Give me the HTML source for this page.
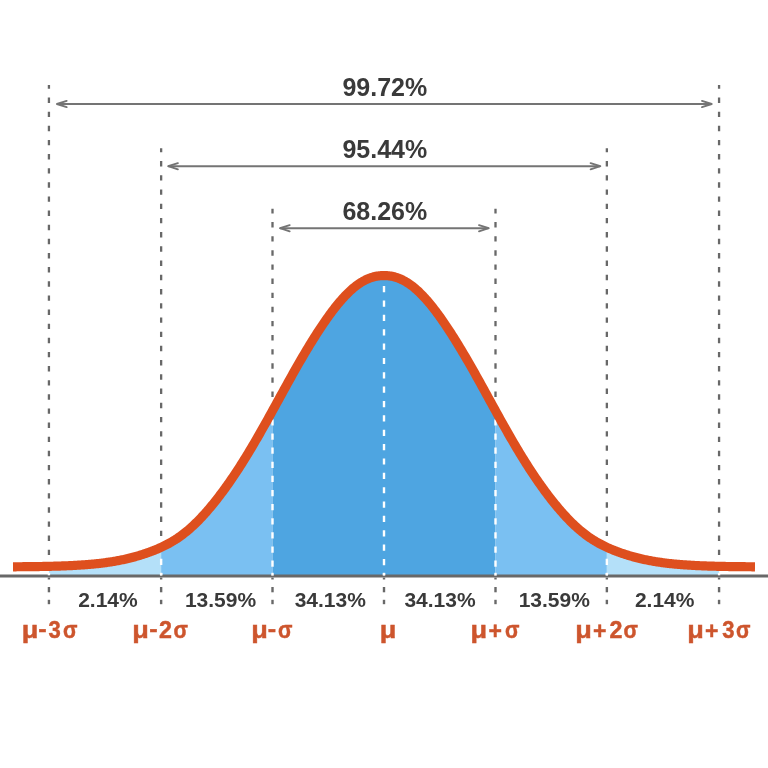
<!DOCTYPE html>
<html><head><meta charset="utf-8"><style>
html,body{margin:0;padding:0;background:#fff;width:768px;height:768px;overflow:hidden}
svg{display:block}
text{font-family:"Liberation Sans",sans-serif;font-weight:bold}
text{filter:opacity(1)}
</style></head><body>
<svg width="768" height="768" viewBox="0 0 768 768">
<rect width="768" height="768" fill="#fff"/>
<line x1="48.93" y1="85.00" x2="48.93" y2="576.00" stroke="#686868" stroke-width="2.30" stroke-dasharray="5.40 8.73" stroke-dashoffset="1.570"/>
<line x1="161.14" y1="148.20" x2="161.14" y2="576.00" stroke="#686868" stroke-width="2.30" stroke-dasharray="5.40 8.82" stroke-dashoffset="1.420"/>
<line x1="272.50" y1="208.70" x2="272.50" y2="576.00" stroke="#686868" stroke-width="2.30" stroke-dasharray="5.40 8.72" stroke-dashoffset="0.720"/>
<line x1="495.50" y1="208.70" x2="495.50" y2="576.00" stroke="#686868" stroke-width="2.30" stroke-dasharray="5.40 8.72" stroke-dashoffset="0.720"/>
<line x1="606.86" y1="148.20" x2="606.86" y2="576.00" stroke="#686868" stroke-width="2.30" stroke-dasharray="5.40 8.82" stroke-dashoffset="1.420"/>
<line x1="719.07" y1="85.00" x2="719.07" y2="576.00" stroke="#686868" stroke-width="2.30" stroke-dasharray="5.40 8.73" stroke-dashoffset="1.570"/>
<path d="M48.93,566.34 L49.93,566.32 L50.93,566.30 L51.93,566.27 L52.93,566.25 L53.93,566.22 L54.93,566.19 L55.93,566.16 L56.93,566.13 L57.93,566.10 L58.93,566.07 L59.93,566.04 L60.93,566.00 L61.93,565.97 L62.93,565.93 L63.93,565.90 L64.93,565.86 L65.93,565.82 L66.93,565.78 L67.93,565.73 L68.93,565.69 L69.93,565.64 L70.93,565.60 L71.93,565.55 L72.93,565.50 L73.93,565.44 L74.93,565.39 L75.93,565.34 L76.93,565.28 L77.93,565.22 L78.93,565.16 L79.93,565.10 L80.93,565.03 L81.93,564.96 L82.93,564.89 L83.93,564.82 L84.93,564.75 L85.93,564.67 L86.93,564.60 L87.93,564.52 L88.93,564.43 L89.93,564.35 L90.93,564.26 L91.93,564.17 L92.93,564.08 L93.93,563.98 L94.93,563.88 L95.93,563.78 L96.93,563.67 L97.93,563.57 L98.93,563.45 L99.93,563.34 L100.93,563.22 L101.93,563.10 L102.93,562.98 L103.93,562.85 L104.93,562.72 L105.93,562.58 L106.93,562.44 L107.93,562.30 L108.93,562.15 L109.93,562.00 L110.93,561.85 L111.93,561.69 L112.93,561.53 L113.93,561.36 L114.93,561.19 L115.93,561.01 L116.93,560.83 L117.93,560.65 L118.93,560.46 L119.93,560.26 L120.93,560.06 L121.93,559.86 L122.93,559.65 L123.93,559.43 L124.93,559.21 L125.93,558.99 L126.93,558.76 L127.93,558.53 L128.93,558.29 L129.93,558.04 L130.93,557.79 L131.93,557.53 L132.93,557.27 L133.93,557.00 L134.93,556.73 L135.93,556.45 L136.93,556.17 L137.93,555.88 L138.93,555.58 L139.93,555.28 L140.93,554.97 L141.93,554.66 L142.93,554.34 L143.93,554.02 L144.93,553.68 L145.93,553.35 L146.93,553.00 L147.93,552.65 L148.93,552.29 L149.93,551.93 L150.93,551.55 L151.93,551.18 L152.93,550.79 L153.93,550.39 L154.93,549.99 L155.93,549.58 L156.93,549.17 L157.93,548.74 L158.93,548.30 L159.93,547.86 L160.93,547.40 L161.14,547.31 L161.14,576.00 L48.93,576.00 Z" fill="#b4e0f9"/>
<path d="M161.14,547.31 L162.14,546.84 L163.14,546.37 L164.14,545.88 L165.14,545.38 L166.14,544.87 L167.14,544.35 L168.14,543.82 L169.14,543.28 L170.14,542.72 L171.14,542.15 L172.14,541.56 L173.14,540.96 L174.14,540.35 L175.14,539.72 L176.14,539.08 L177.14,538.42 L178.14,537.75 L179.14,537.06 L180.14,536.35 L181.14,535.63 L182.14,534.90 L183.14,534.14 L184.14,533.37 L185.14,532.58 L186.14,531.77 L187.14,530.95 L188.14,530.11 L189.14,529.26 L190.14,528.38 L191.14,527.49 L192.14,526.58 L193.14,525.66 L194.14,524.72 L195.14,523.76 L196.14,522.78 L197.14,521.79 L198.14,520.79 L199.14,519.76 L200.14,518.73 L201.14,517.67 L202.14,516.60 L203.14,515.52 L204.14,514.42 L205.14,513.31 L206.14,512.18 L207.14,511.04 L208.14,509.88 L209.14,508.71 L210.14,507.53 L211.14,506.33 L212.14,505.12 L213.14,503.90 L214.14,502.66 L215.14,501.42 L216.14,500.15 L217.14,498.88 L218.14,497.59 L219.14,496.29 L220.14,494.98 L221.14,493.65 L222.14,492.31 L223.14,490.96 L224.14,489.60 L225.14,488.23 L226.14,486.84 L227.14,485.44 L228.14,484.03 L229.14,482.60 L230.14,481.17 L231.14,479.72 L232.14,478.26 L233.14,476.79 L234.14,475.30 L235.14,473.81 L236.14,472.30 L237.14,470.78 L238.14,469.25 L239.14,467.70 L240.14,466.15 L241.14,464.58 L242.14,463.01 L243.14,461.42 L244.14,459.82 L245.14,458.21 L246.14,456.58 L247.14,454.95 L248.14,453.31 L249.14,451.66 L250.14,449.99 L251.14,448.32 L252.14,446.64 L253.14,444.95 L254.14,443.25 L255.14,441.54 L256.14,439.82 L257.14,438.09 L258.14,436.36 L259.14,434.61 L260.14,432.86 L261.14,431.11 L262.14,429.34 L263.14,427.57 L264.14,425.79 L265.14,424.01 L266.14,422.22 L267.14,420.43 L268.14,418.63 L269.14,416.83 L270.14,415.02 L271.14,413.21 L272.14,411.40 L272.50,410.75 L272.50,576.00 L161.14,576.00 Z" fill="#7ac0f2"/>
<path d="M272.50,410.75 L273.50,408.93 L274.50,407.11 L275.50,405.29 L276.50,403.47 L277.50,401.64 L278.50,399.82 L279.50,398.00 L280.50,396.17 L281.50,394.35 L282.50,392.53 L283.50,390.71 L284.50,388.89 L285.50,387.08 L286.50,385.27 L287.50,383.46 L288.50,381.66 L289.50,379.86 L290.50,378.06 L291.50,376.27 L292.50,374.49 L293.50,372.71 L294.50,370.94 L295.50,369.17 L296.50,367.41 L297.50,365.66 L298.50,363.92 L299.50,362.18 L300.50,360.45 L301.50,358.73 L302.50,357.02 L303.50,355.32 L304.50,353.62 L305.50,351.94 L306.50,350.27 L307.50,348.60 L308.50,346.95 L309.50,345.30 L310.50,343.67 L311.50,342.05 L312.50,340.43 L313.50,338.83 L314.50,337.24 L315.50,335.67 L316.50,334.10 L317.50,332.55 L318.50,331.01 L319.50,329.48 L320.50,327.96 L321.50,326.46 L322.50,324.97 L323.50,323.49 L324.50,322.03 L325.50,320.59 L326.50,319.16 L327.50,317.74 L328.50,316.34 L329.50,314.96 L330.50,313.59 L331.50,312.24 L332.50,310.91 L333.50,309.60 L334.50,308.30 L335.50,307.03 L336.50,305.77 L337.50,304.54 L338.50,303.33 L339.50,302.13 L340.50,300.96 L341.50,299.82 L342.50,298.69 L343.50,297.59 L344.50,296.51 L345.50,295.46 L346.50,294.43 L347.50,293.42 L348.50,292.44 L349.50,291.49 L350.50,290.56 L351.50,289.66 L352.50,288.79 L353.50,287.94 L354.50,287.12 L355.50,286.33 L356.50,285.57 L357.50,284.83 L358.50,284.12 L359.50,283.44 L360.50,282.79 L361.50,282.17 L362.50,281.57 L363.50,281.01 L364.50,280.47 L365.50,279.96 L366.50,279.48 L367.50,279.03 L368.50,278.61 L369.50,278.21 L370.50,277.84 L371.50,277.50 L372.50,277.19 L373.50,276.91 L374.50,276.66 L375.50,276.43 L376.50,276.23 L377.50,276.05 L378.50,275.90 L379.50,275.78 L380.50,275.68 L381.50,275.61 L382.50,275.57 L383.50,275.54 L384.00,275.54 L384.00,576.00 L272.50,576.00 Z" fill="#4ea5e1"/>
<path d="M384.00,275.54 L385.00,275.55 L386.00,275.59 L387.00,275.65 L388.00,275.73 L389.00,275.84 L390.00,275.97 L391.00,276.14 L392.00,276.32 L393.00,276.54 L394.00,276.78 L395.00,277.05 L396.00,277.35 L397.00,277.67 L398.00,278.02 L399.00,278.40 L400.00,278.81 L401.00,279.25 L402.00,279.72 L403.00,280.21 L404.00,280.74 L405.00,281.29 L406.00,281.87 L407.00,282.48 L408.00,283.11 L409.00,283.78 L410.00,284.47 L411.00,285.19 L412.00,285.94 L413.00,286.72 L414.00,287.53 L415.00,288.36 L416.00,289.22 L417.00,290.11 L418.00,291.02 L419.00,291.96 L420.00,292.93 L421.00,293.92 L422.00,294.94 L423.00,295.98 L424.00,297.05 L425.00,298.14 L426.00,299.25 L427.00,300.39 L428.00,301.55 L429.00,302.73 L430.00,303.93 L431.00,305.15 L432.00,306.40 L433.00,307.66 L434.00,308.95 L435.00,310.25 L436.00,311.58 L437.00,312.92 L438.00,314.27 L439.00,315.65 L440.00,317.04 L441.00,318.45 L442.00,319.87 L443.00,321.31 L444.00,322.76 L445.00,324.23 L446.00,325.71 L447.00,327.21 L448.00,328.72 L449.00,330.24 L450.00,331.77 L451.00,333.32 L452.00,334.88 L453.00,336.45 L454.00,338.04 L455.00,339.63 L456.00,341.24 L457.00,342.86 L458.00,344.48 L459.00,346.12 L460.00,347.77 L461.00,349.43 L462.00,351.10 L463.00,352.78 L464.00,354.47 L465.00,356.17 L466.00,357.87 L467.00,359.59 L468.00,361.31 L469.00,363.05 L470.00,364.79 L471.00,366.53 L472.00,368.29 L473.00,370.05 L474.00,371.82 L475.00,373.60 L476.00,375.38 L477.00,377.17 L478.00,378.96 L479.00,380.76 L480.00,382.56 L481.00,384.36 L482.00,386.17 L483.00,387.99 L484.00,389.80 L485.00,391.62 L486.00,393.44 L487.00,395.26 L488.00,397.09 L489.00,398.91 L490.00,400.73 L491.00,402.56 L492.00,404.38 L493.00,406.20 L494.00,408.02 L495.00,409.84 L495.50,410.75 L495.50,576.00 L384.00,576.00 Z" fill="#4ea5e1"/>
<path d="M495.50,410.75 L496.50,412.56 L497.50,414.37 L498.50,416.18 L499.50,417.98 L500.50,419.78 L501.50,421.58 L502.50,423.37 L503.50,425.15 L504.50,426.93 L505.50,428.71 L506.50,430.47 L507.50,432.23 L508.50,433.98 L509.50,435.73 L510.50,437.47 L511.50,439.20 L512.50,440.92 L513.50,442.63 L514.50,444.34 L515.50,446.03 L516.50,447.72 L517.50,449.39 L518.50,451.06 L519.50,452.72 L520.50,454.36 L521.50,456.00 L522.50,457.62 L523.50,459.24 L524.50,460.84 L525.50,462.43 L526.50,464.02 L527.50,465.59 L528.50,467.15 L529.50,468.69 L530.50,470.23 L531.50,471.75 L532.50,473.27 L533.50,474.77 L534.50,476.25 L535.50,477.73 L536.50,479.20 L537.50,480.65 L538.50,482.09 L539.50,483.52 L540.50,484.93 L541.50,486.34 L542.50,487.73 L543.50,489.11 L544.50,490.48 L545.50,491.83 L546.50,493.17 L547.50,494.50 L548.50,495.82 L549.50,497.12 L550.50,498.42 L551.50,499.70 L552.50,500.96 L553.50,502.22 L554.50,503.46 L555.50,504.69 L556.50,505.90 L557.50,507.10 L558.50,508.29 L559.50,509.46 L560.50,510.63 L561.50,511.77 L562.50,512.90 L563.50,514.02 L564.50,515.13 L565.50,516.22 L566.50,517.29 L567.50,518.35 L568.50,519.39 L569.50,520.42 L570.50,521.43 L571.50,522.43 L572.50,523.41 L573.50,524.37 L574.50,525.32 L575.50,526.25 L576.50,527.17 L577.50,528.06 L578.50,528.94 L579.50,529.81 L580.50,530.65 L581.50,531.48 L582.50,532.29 L583.50,533.09 L584.50,533.86 L585.50,534.63 L586.50,535.37 L587.50,536.10 L588.50,536.81 L589.50,537.50 L590.50,538.18 L591.50,538.85 L592.50,539.49 L593.50,540.13 L594.50,540.74 L595.50,541.35 L596.50,541.94 L597.50,542.51 L598.50,543.08 L599.50,543.63 L600.50,544.16 L601.50,544.69 L602.50,545.20 L603.50,545.70 L604.50,546.19 L605.50,546.67 L606.50,547.14 L606.86,547.31 L606.86,576.00 L495.50,576.00 Z" fill="#7ac0f2"/>
<path d="M606.86,547.31 L607.86,547.76 L608.86,548.21 L609.86,548.65 L610.86,549.08 L611.86,549.50 L612.86,549.91 L613.86,550.31 L614.86,550.71 L615.86,551.09 L616.86,551.48 L617.86,551.85 L618.86,552.21 L619.86,552.57 L620.86,552.93 L621.86,553.27 L622.86,553.61 L623.86,553.95 L624.86,554.27 L625.86,554.59 L626.86,554.91 L627.86,555.22 L628.86,555.52 L629.86,555.82 L630.86,556.11 L631.86,556.39 L632.86,556.67 L633.86,556.95 L634.86,557.22 L635.86,557.48 L636.86,557.74 L637.86,557.99 L638.86,558.23 L639.86,558.48 L640.86,558.71 L641.86,558.94 L642.86,559.17 L643.86,559.39 L644.86,559.60 L645.86,559.81 L646.86,560.02 L647.86,560.22 L648.86,560.42 L649.86,560.61 L650.86,560.79 L651.86,560.97 L652.86,561.15 L653.86,561.32 L654.86,561.49 L655.86,561.66 L656.86,561.82 L657.86,561.97 L658.86,562.12 L659.86,562.27 L660.86,562.41 L661.86,562.55 L662.86,562.69 L663.86,562.82 L664.86,562.95 L665.86,563.08 L666.86,563.20 L667.86,563.32 L668.86,563.43 L669.86,563.54 L670.86,563.65 L671.86,563.76 L672.86,563.86 L673.86,563.96 L674.86,564.06 L675.86,564.15 L676.86,564.24 L677.86,564.33 L678.86,564.41 L679.86,564.50 L680.86,564.58 L681.86,564.66 L682.86,564.73 L683.86,564.81 L684.86,564.88 L685.86,564.95 L686.86,565.02 L687.86,565.08 L688.86,565.15 L689.86,565.21 L690.86,565.27 L691.86,565.32 L692.86,565.38 L693.86,565.43 L694.86,565.49 L695.86,565.54 L696.86,565.59 L697.86,565.63 L698.86,565.68 L699.86,565.72 L700.86,565.77 L701.86,565.81 L702.86,565.85 L703.86,565.89 L704.86,565.93 L705.86,565.96 L706.86,566.00 L707.86,566.03 L708.86,566.06 L709.86,566.10 L710.86,566.13 L711.86,566.16 L712.86,566.19 L713.86,566.21 L714.86,566.24 L715.86,566.27 L716.86,566.29 L717.86,566.31 L718.86,566.34 L719.07,566.34 L719.07,576.00 L606.86,576.00 Z" fill="#b4e0f9"/>
<clipPath id="fc"><path d="M46.93,566.39 L47.93,566.37 L48.93,566.34 L49.93,566.32 L50.93,566.30 L51.93,566.27 L52.93,566.25 L53.93,566.22 L54.93,566.19 L55.93,566.16 L56.93,566.13 L57.93,566.10 L58.93,566.07 L59.93,566.04 L60.93,566.00 L61.93,565.97 L62.93,565.93 L63.93,565.90 L64.93,565.86 L65.93,565.82 L66.93,565.78 L67.93,565.73 L68.93,565.69 L69.93,565.64 L70.93,565.60 L71.93,565.55 L72.93,565.50 L73.93,565.44 L74.93,565.39 L75.93,565.34 L76.93,565.28 L77.93,565.22 L78.93,565.16 L79.93,565.10 L80.93,565.03 L81.93,564.96 L82.93,564.89 L83.93,564.82 L84.93,564.75 L85.93,564.67 L86.93,564.60 L87.93,564.52 L88.93,564.43 L89.93,564.35 L90.93,564.26 L91.93,564.17 L92.93,564.08 L93.93,563.98 L94.93,563.88 L95.93,563.78 L96.93,563.67 L97.93,563.57 L98.93,563.45 L99.93,563.34 L100.93,563.22 L101.93,563.10 L102.93,562.98 L103.93,562.85 L104.93,562.72 L105.93,562.58 L106.93,562.44 L107.93,562.30 L108.93,562.15 L109.93,562.00 L110.93,561.85 L111.93,561.69 L112.93,561.53 L113.93,561.36 L114.93,561.19 L115.93,561.01 L116.93,560.83 L117.93,560.65 L118.93,560.46 L119.93,560.26 L120.93,560.06 L121.93,559.86 L122.93,559.65 L123.93,559.43 L124.93,559.21 L125.93,558.99 L126.93,558.76 L127.93,558.53 L128.93,558.29 L129.93,558.04 L130.93,557.79 L131.93,557.53 L132.93,557.27 L133.93,557.00 L134.93,556.73 L135.93,556.45 L136.93,556.17 L137.93,555.88 L138.93,555.58 L139.93,555.28 L140.93,554.97 L141.93,554.66 L142.93,554.34 L143.93,554.02 L144.93,553.68 L145.93,553.35 L146.93,553.00 L147.93,552.65 L148.93,552.29 L149.93,551.93 L150.93,551.55 L151.93,551.18 L152.93,550.79 L153.93,550.39 L154.93,549.99 L155.93,549.58 L156.93,549.17 L157.93,548.74 L158.93,548.30 L159.93,547.86 L160.93,547.40 L161.93,546.94 L162.93,546.47 L163.93,545.98 L164.93,545.49 L165.93,544.98 L166.93,544.46 L167.93,543.93 L168.93,543.39 L169.93,542.84 L170.93,542.27 L171.93,541.69 L172.93,541.09 L173.93,540.48 L174.93,539.86 L175.93,539.22 L176.93,538.56 L177.93,537.89 L178.93,537.21 L179.93,536.50 L180.93,535.79 L181.93,535.05 L182.93,534.30 L183.93,533.53 L184.93,532.75 L185.93,531.95 L186.93,531.13 L187.93,530.29 L188.93,529.44 L189.93,528.57 L190.93,527.68 L191.93,526.77 L192.93,525.85 L193.93,524.92 L194.93,523.96 L195.93,522.99 L196.93,522.00 L197.93,521.00 L198.93,519.98 L199.93,518.95 L200.93,517.90 L201.93,516.83 L202.93,515.75 L203.93,514.65 L204.93,513.54 L205.93,512.42 L206.93,511.28 L207.93,510.13 L208.93,508.96 L209.93,507.78 L210.93,506.59 L211.93,505.38 L212.93,504.16 L213.93,502.93 L214.93,501.68 L215.93,500.42 L216.93,499.15 L217.93,497.86 L218.93,496.56 L219.93,495.25 L220.93,493.93 L221.93,492.60 L222.93,491.25 L223.93,489.89 L224.93,488.52 L225.93,487.13 L226.93,485.74 L227.93,484.33 L228.93,482.90 L229.93,481.47 L230.93,480.03 L231.93,478.57 L232.93,477.10 L233.93,475.62 L234.93,474.12 L235.93,472.62 L236.93,471.10 L237.93,469.57 L238.93,468.03 L239.93,466.48 L240.93,464.91 L241.93,463.34 L242.93,461.75 L243.93,460.15 L244.93,458.54 L245.93,456.93 L246.93,455.30 L247.93,453.66 L248.93,452.00 L249.93,450.34 L250.93,448.67 L251.93,446.99 L252.93,445.30 L253.93,443.60 L254.93,441.90 L255.93,440.18 L256.93,438.45 L257.93,436.72 L258.93,434.98 L259.93,433.23 L260.93,431.48 L261.93,429.71 L262.93,427.94 L263.93,426.17 L264.93,424.39 L265.93,422.60 L266.93,420.81 L267.93,419.01 L268.93,417.21 L269.93,415.40 L270.93,413.59 L271.93,411.78 L272.93,409.97 L273.93,408.15 L274.93,406.33 L275.93,404.51 L276.93,402.68 L277.93,400.86 L278.93,399.04 L279.93,397.21 L280.93,395.39 L281.93,393.57 L282.93,391.75 L283.93,389.93 L284.93,388.11 L285.93,386.30 L286.93,384.49 L287.93,382.68 L288.93,380.88 L289.93,379.08 L290.93,377.29 L291.93,375.50 L292.93,373.72 L293.93,371.95 L294.93,370.18 L295.93,368.41 L296.93,366.66 L297.93,364.91 L298.93,363.17 L299.93,361.43 L300.93,359.71 L301.93,357.99 L302.93,356.29 L303.93,354.59 L304.93,352.90 L305.93,351.22 L306.93,349.55 L307.93,347.89 L308.93,346.24 L309.93,344.60 L310.93,342.97 L311.93,341.35 L312.93,339.75 L313.93,338.15 L314.93,336.56 L315.93,334.99 L316.93,333.43 L317.93,331.88 L318.93,330.35 L319.93,328.82 L320.93,327.31 L321.93,325.82 L322.93,324.33 L323.93,322.86 L324.93,321.41 L325.93,319.97 L326.93,318.55 L327.93,317.14 L328.93,315.74 L329.93,314.37 L330.93,313.01 L331.93,311.67 L332.93,310.34 L333.93,309.04 L334.93,307.75 L335.93,306.49 L336.93,305.24 L337.93,304.02 L338.93,302.81 L339.93,301.63 L340.93,300.47 L341.93,299.33 L342.93,298.21 L343.93,297.12 L344.93,296.05 L345.93,295.01 L346.93,293.99 L347.93,293.00 L348.93,292.03 L349.93,291.09 L350.93,290.17 L351.93,289.28 L352.93,288.42 L353.93,287.59 L354.93,286.78 L355.93,286.00 L356.93,285.25 L357.93,284.52 L358.93,283.83 L359.93,283.16 L360.93,282.52 L361.93,281.91 L362.93,281.33 L363.93,280.77 L364.93,280.25 L365.93,279.75 L366.93,279.28 L367.93,278.84 L368.93,278.43 L369.93,278.05 L370.93,277.69 L371.93,277.37 L372.93,277.07 L373.93,276.80 L374.93,276.55 L375.93,276.34 L376.93,276.15 L377.93,275.98 L378.93,275.85 L379.93,275.74 L380.93,275.65 L381.93,275.59 L382.93,275.55 L383.93,275.54 L384.93,275.55 L385.93,275.58 L386.93,275.64 L387.93,275.72 L388.93,275.83 L389.93,275.96 L390.93,276.12 L391.93,276.31 L392.93,276.52 L393.93,276.76 L394.93,277.03 L395.93,277.32 L396.93,277.65 L397.93,278.00 L398.93,278.38 L399.93,278.78 L400.93,279.22 L401.93,279.68 L402.93,280.18 L403.93,280.70 L404.93,281.25 L405.93,281.83 L406.93,282.43 L407.93,283.07 L408.93,283.73 L409.93,284.42 L410.93,285.14 L411.93,285.89 L412.93,286.67 L413.93,287.47 L414.93,288.30 L415.93,289.16 L416.93,290.05 L417.93,290.96 L418.93,291.90 L419.93,292.86 L420.93,293.85 L421.93,294.87 L422.93,295.91 L423.93,296.97 L424.93,298.06 L425.93,299.17 L426.93,300.31 L427.93,301.46 L428.93,302.64 L429.93,303.85 L430.93,305.07 L431.93,306.31 L432.93,307.58 L433.93,308.86 L434.93,310.16 L435.93,311.48 L436.93,312.82 L437.93,314.18 L438.93,315.55 L439.93,316.94 L440.93,318.35 L441.93,319.77 L442.93,321.21 L443.93,322.66 L444.93,324.13 L445.93,325.61 L446.93,327.10 L447.93,328.61 L448.93,330.13 L449.93,331.67 L450.93,333.21 L451.93,334.77 L452.93,336.34 L453.93,337.93 L454.93,339.52 L455.93,341.13 L456.93,342.74 L457.93,344.37 L458.93,346.01 L459.93,347.66 L460.93,349.32 L461.93,350.98 L462.93,352.66 L463.93,354.35 L464.93,356.05 L465.93,357.75 L466.93,359.47 L467.93,361.19 L468.93,362.92 L469.93,364.66 L470.93,366.41 L471.93,368.17 L472.93,369.93 L473.93,371.70 L474.93,373.47 L475.93,375.25 L476.93,377.04 L477.93,378.83 L478.93,380.63 L479.93,382.43 L480.93,384.24 L481.93,386.05 L482.93,387.86 L483.93,389.68 L484.93,391.49 L485.93,393.31 L486.93,395.14 L487.93,396.96 L488.93,398.78 L489.93,400.61 L490.93,402.43 L491.93,404.25 L492.93,406.07 L493.93,407.89 L494.93,409.71 L495.93,411.53 L496.93,413.34 L497.93,415.15 L498.93,416.96 L499.93,418.76 L500.93,420.56 L501.93,422.35 L502.93,424.14 L503.93,425.92 L504.93,427.70 L505.93,429.47 L506.93,431.23 L507.93,432.99 L508.93,434.74 L509.93,436.48 L510.93,438.21 L511.93,439.94 L512.93,441.66 L513.93,443.37 L514.93,445.07 L515.93,446.76 L516.93,448.44 L517.93,450.11 L518.93,451.77 L519.93,453.42 L520.93,455.07 L521.93,456.70 L522.93,458.32 L523.93,459.93 L524.93,461.53 L525.93,463.12 L526.93,464.69 L527.93,466.26 L528.93,467.81 L529.93,469.36 L530.93,470.89 L531.93,472.41 L532.93,473.91 L533.93,475.41 L534.93,476.89 L535.93,478.36 L536.93,479.82 L537.93,481.27 L538.93,482.70 L539.93,484.13 L540.93,485.54 L541.93,486.94 L542.93,488.32 L543.93,489.70 L544.93,491.06 L545.93,492.41 L546.93,493.75 L547.93,495.07 L548.93,496.38 L549.93,497.68 L550.93,498.97 L551.93,500.24 L552.93,501.50 L553.93,502.75 L554.93,503.99 L555.93,505.21 L556.93,506.42 L557.93,507.61 L558.93,508.80 L559.93,509.97 L560.93,511.12 L561.93,512.26 L562.93,513.39 L563.93,514.50 L564.93,515.60 L565.93,516.68 L566.93,517.75 L567.93,518.80 L568.93,519.84 L569.93,520.86 L570.93,521.86 L571.93,522.85 L572.93,523.83 L573.93,524.78 L574.93,525.72 L575.93,526.65 L576.93,527.55 L577.93,528.44 L578.93,529.32 L579.93,530.17 L580.93,531.01 L581.93,531.83 L582.93,532.64 L583.93,533.42 L584.93,534.19 L585.93,534.95 L586.93,535.68 L587.93,536.40 L588.93,537.11 L589.93,537.80 L590.93,538.47 L591.93,539.13 L592.93,539.77 L593.93,540.39 L594.93,541.01 L595.93,541.60 L596.93,542.19 L597.93,542.76 L598.93,543.31 L599.93,543.86 L600.93,544.39 L601.93,544.91 L602.93,545.42 L603.93,545.91 L604.93,546.40 L605.93,546.88 L606.93,547.34 L607.93,547.80 L608.93,548.24 L609.93,548.68 L610.93,549.11 L611.93,549.53 L612.93,549.94 L613.93,550.34 L614.93,550.73 L615.93,551.12 L616.93,551.50 L617.93,551.87 L618.93,552.24 L619.93,552.60 L620.93,552.95 L621.93,553.30 L622.93,553.64 L623.93,553.97 L624.93,554.30 L625.93,554.62 L626.93,554.93 L627.93,555.24 L628.93,555.54 L629.93,555.84 L630.93,556.13 L631.93,556.41 L632.93,556.69 L633.93,556.97 L634.93,557.23 L635.93,557.50 L636.93,557.75 L637.93,558.01 L638.93,558.25 L639.93,558.49 L640.93,558.73 L641.93,558.96 L642.93,559.18 L643.93,559.40 L644.93,559.62 L645.93,559.83 L646.93,560.03 L647.93,560.23 L648.93,560.43 L649.93,560.62 L650.93,560.81 L651.93,560.99 L652.93,561.16 L653.93,561.34 L654.93,561.50 L655.93,561.67 L656.93,561.83 L657.93,561.98 L658.93,562.13 L659.93,562.28 L660.93,562.42 L661.93,562.56 L662.93,562.70 L663.93,562.83 L664.93,562.96 L665.93,563.08 L666.93,563.21 L667.93,563.32 L668.93,563.44 L669.93,563.55 L670.93,563.66 L671.93,563.76 L672.93,563.87 L673.93,563.97 L674.93,564.06 L675.93,564.16 L676.93,564.25 L677.93,564.34 L678.93,564.42 L679.93,564.50 L680.93,564.58 L681.93,564.66 L682.93,564.74 L683.93,564.81 L684.93,564.88 L685.93,564.95 L686.93,565.02 L687.93,565.09 L688.93,565.15 L689.93,565.21 L690.93,565.27 L691.93,565.33 L692.93,565.38 L693.93,565.44 L694.93,565.49 L695.93,565.54 L696.93,565.59 L697.93,565.64 L698.93,565.68 L699.93,565.73 L700.93,565.77 L701.93,565.81 L702.93,565.85 L703.93,565.89 L704.93,565.93 L705.93,565.96 L706.93,566.00 L707.93,566.03 L708.93,566.07 L709.93,566.10 L710.93,566.13 L711.93,566.16 L712.93,566.19 L713.93,566.21 L714.93,566.24 L715.93,566.27 L716.93,566.29 L717.93,566.32 L718.93,566.34 L719.93,566.36 L720.93,566.38 L721.07,566.39 L721.07,576.00 L46.93,576.00 Z"/></clipPath>
<line x1="0" y1="576.0" x2="768" y2="576.0" stroke="#686868" stroke-width="3"/>
<g clip-path="url(#fc)">
<line x1="48.93" y1="85.00" x2="48.93" y2="575.40" stroke="#fff" stroke-width="2.40" stroke-dasharray="6.20 7.93" stroke-dashoffset="1.970"/>
<line x1="161.14" y1="148.20" x2="161.14" y2="575.40" stroke="#fff" stroke-width="2.40" stroke-dasharray="6.20 8.02" stroke-dashoffset="1.820"/>
<line x1="272.50" y1="208.70" x2="272.50" y2="575.40" stroke="#fff" stroke-width="2.40" stroke-dasharray="6.20 7.92" stroke-dashoffset="1.120"/>
<line x1="384.00" y1="280.00" x2="384.00" y2="575.40" stroke="#fff" stroke-width="2.40" stroke-dasharray="6.20 8.16" stroke-dashoffset="8.260"/>
<line x1="495.50" y1="208.70" x2="495.50" y2="575.40" stroke="#fff" stroke-width="2.40" stroke-dasharray="6.20 7.92" stroke-dashoffset="1.120"/>
<line x1="606.86" y1="148.20" x2="606.86" y2="575.40" stroke="#fff" stroke-width="2.40" stroke-dasharray="6.20 8.02" stroke-dashoffset="1.820"/>
<line x1="719.07" y1="85.00" x2="719.07" y2="575.40" stroke="#fff" stroke-width="2.40" stroke-dasharray="6.20 7.93" stroke-dashoffset="1.970"/>
</g>
<line x1="48.93" y1="572.8" x2="48.93" y2="575.3" stroke="#fff" stroke-width="2.4"/>
<line x1="161.14" y1="572.8" x2="161.14" y2="575.3" stroke="#fff" stroke-width="2.4"/>
<line x1="272.50" y1="572.8" x2="272.50" y2="575.3" stroke="#fff" stroke-width="2.4"/>
<line x1="384.00" y1="572.8" x2="384.00" y2="575.3" stroke="#fff" stroke-width="2.4"/>
<line x1="495.50" y1="572.8" x2="495.50" y2="575.3" stroke="#fff" stroke-width="2.4"/>
<line x1="606.86" y1="572.8" x2="606.86" y2="575.3" stroke="#fff" stroke-width="2.4"/>
<line x1="719.07" y1="572.8" x2="719.07" y2="575.3" stroke="#fff" stroke-width="2.4"/>
<line x1="48.93" y1="577.6" x2="48.93" y2="579.5" stroke="#686868" stroke-width="2.4"/>
<line x1="48.93" y1="587.0" x2="48.93" y2="592.3" stroke="#686868" stroke-width="2.4"/>
<line x1="48.93" y1="599.8" x2="48.93" y2="604.2" stroke="#686868" stroke-width="2.4"/>
<line x1="161.14" y1="577.6" x2="161.14" y2="579.5" stroke="#686868" stroke-width="2.4"/>
<line x1="161.14" y1="587.0" x2="161.14" y2="592.3" stroke="#686868" stroke-width="2.4"/>
<line x1="161.14" y1="599.8" x2="161.14" y2="604.2" stroke="#686868" stroke-width="2.4"/>
<line x1="272.50" y1="577.6" x2="272.50" y2="579.5" stroke="#686868" stroke-width="2.4"/>
<line x1="272.50" y1="587.0" x2="272.50" y2="592.3" stroke="#686868" stroke-width="2.4"/>
<line x1="272.50" y1="599.8" x2="272.50" y2="604.2" stroke="#686868" stroke-width="2.4"/>
<line x1="384.00" y1="577.6" x2="384.00" y2="579.5" stroke="#686868" stroke-width="2.4"/>
<line x1="384.00" y1="587.0" x2="384.00" y2="592.3" stroke="#686868" stroke-width="2.4"/>
<line x1="384.00" y1="599.8" x2="384.00" y2="604.2" stroke="#686868" stroke-width="2.4"/>
<line x1="495.50" y1="577.6" x2="495.50" y2="579.5" stroke="#686868" stroke-width="2.4"/>
<line x1="495.50" y1="587.0" x2="495.50" y2="592.3" stroke="#686868" stroke-width="2.4"/>
<line x1="495.50" y1="599.8" x2="495.50" y2="604.2" stroke="#686868" stroke-width="2.4"/>
<line x1="606.86" y1="577.6" x2="606.86" y2="579.5" stroke="#686868" stroke-width="2.4"/>
<line x1="606.86" y1="587.0" x2="606.86" y2="592.3" stroke="#686868" stroke-width="2.4"/>
<line x1="606.86" y1="599.8" x2="606.86" y2="604.2" stroke="#686868" stroke-width="2.4"/>
<line x1="719.07" y1="577.6" x2="719.07" y2="579.5" stroke="#686868" stroke-width="2.4"/>
<line x1="719.07" y1="587.0" x2="719.07" y2="592.3" stroke="#686868" stroke-width="2.4"/>
<line x1="719.07" y1="599.8" x2="719.07" y2="604.2" stroke="#686868" stroke-width="2.4"/>
<path d="M13.00,566.80 L14.00,566.79 L15.00,566.78 L16.00,566.78 L17.00,566.77 L18.00,566.76 L19.00,566.76 L20.00,566.75 L21.00,566.74 L22.00,566.73 L23.00,566.72 L24.00,566.71 L25.00,566.71 L26.00,566.70 L27.00,566.69 L28.00,566.68 L29.00,566.67 L30.00,566.65 L31.00,566.64 L32.00,566.63 L33.00,566.62 L34.00,566.61 L35.00,566.59 L36.00,566.58 L37.00,566.56 L38.00,566.55 L39.00,566.53 L40.00,566.52 L41.00,566.50 L42.00,566.48 L43.00,566.46 L44.00,566.45 L45.00,566.43 L46.00,566.41 L47.00,566.39 L48.00,566.36 L49.00,566.34 L50.00,566.32 L51.00,566.29 L52.00,566.27 L53.00,566.24 L54.00,566.22 L55.00,566.19 L56.00,566.16 L57.00,566.13 L58.00,566.10 L59.00,566.07 L60.00,566.04 L61.00,566.00 L62.00,565.97 L63.00,565.93 L64.00,565.89 L65.00,565.85 L66.00,565.81 L67.00,565.77 L68.00,565.73 L69.00,565.69 L70.00,565.64 L71.00,565.59 L72.00,565.54 L73.00,565.49 L74.00,565.44 L75.00,565.39 L76.00,565.33 L77.00,565.27 L78.00,565.21 L79.00,565.15 L80.00,565.09 L81.00,565.03 L82.00,564.96 L83.00,564.89 L84.00,564.82 L85.00,564.74 L86.00,564.67 L87.00,564.59 L88.00,564.51 L89.00,564.43 L90.00,564.34 L91.00,564.25 L92.00,564.16 L93.00,564.07 L94.00,563.97 L95.00,563.87 L96.00,563.77 L97.00,563.67 L98.00,563.56 L99.00,563.45 L100.00,563.33 L101.00,563.21 L102.00,563.09 L103.00,562.97 L104.00,562.84 L105.00,562.71 L106.00,562.57 L107.00,562.43 L108.00,562.29 L109.00,562.14 L110.00,561.99 L111.00,561.84 L112.00,561.68 L113.00,561.52 L114.00,561.35 L115.00,561.18 L116.00,561.00 L117.00,560.82 L118.00,560.63 L119.00,560.44 L120.00,560.25 L121.00,560.05 L122.00,559.84 L123.00,559.63 L124.00,559.42 L125.00,559.20 L126.00,558.97 L127.00,558.74 L128.00,558.51 L129.00,558.27 L130.00,558.02 L131.00,557.77 L132.00,557.52 L133.00,557.25 L134.00,556.99 L135.00,556.71 L136.00,556.43 L137.00,556.15 L138.00,555.86 L139.00,555.56 L140.00,555.26 L141.00,554.95 L142.00,554.64 L143.00,554.32 L144.00,553.99 L145.00,553.66 L146.00,553.32 L147.00,552.98 L148.00,552.62 L149.00,552.27 L150.00,551.90 L151.00,551.53 L152.00,551.15 L153.00,550.76 L154.00,550.37 L155.00,549.96 L156.00,549.55 L157.00,549.14 L158.00,548.71 L159.00,548.27 L160.00,547.83 L161.00,547.37 L162.00,546.91 L163.00,546.43 L164.00,545.95 L165.00,545.45 L166.00,544.95 L167.00,544.43 L168.00,543.90 L169.00,543.35 L170.00,542.80 L171.00,542.23 L172.00,541.64 L173.00,541.05 L174.00,540.44 L175.00,539.81 L176.00,539.17 L177.00,538.52 L178.00,537.84 L179.00,537.16 L180.00,536.45 L181.00,535.74 L182.00,535.00 L183.00,534.25 L184.00,533.48 L185.00,532.69 L186.00,531.89 L187.00,531.07 L188.00,530.23 L189.00,529.38 L190.00,528.50 L191.00,527.62 L192.00,526.71 L193.00,525.79 L194.00,524.85 L195.00,523.89 L196.00,522.92 L197.00,521.93 L198.00,520.93 L199.00,519.91 L200.00,518.87 L201.00,517.82 L202.00,516.75 L203.00,515.67 L204.00,514.58 L205.00,513.47 L206.00,512.34 L207.00,511.20 L208.00,510.05 L209.00,508.88 L210.00,507.70 L211.00,506.50 L212.00,505.29 L213.00,504.07 L214.00,502.84 L215.00,501.59 L216.00,500.33 L217.00,499.06 L218.00,497.77 L219.00,496.47 L220.00,495.16 L221.00,493.84 L222.00,492.50 L223.00,491.15 L224.00,489.79 L225.00,488.42 L226.00,487.03 L227.00,485.64 L228.00,484.23 L229.00,482.80 L230.00,481.37 L231.00,479.92 L232.00,478.47 L233.00,476.99 L234.00,475.51 L235.00,474.02 L236.00,472.51 L237.00,470.99 L238.00,469.46 L239.00,467.92 L240.00,466.37 L241.00,464.80 L242.00,463.23 L243.00,461.64 L244.00,460.04 L245.00,458.43 L246.00,456.81 L247.00,455.18 L248.00,453.54 L249.00,451.89 L250.00,450.23 L251.00,448.56 L252.00,446.87 L253.00,445.18 L254.00,443.48 L255.00,441.78 L256.00,440.06 L257.00,438.33 L258.00,436.60 L259.00,434.86 L260.00,433.11 L261.00,431.35 L262.00,429.59 L263.00,427.82 L264.00,426.04 L265.00,424.26 L266.00,422.47 L267.00,420.68 L268.00,418.88 L269.00,417.08 L270.00,415.28 L271.00,413.47 L272.00,411.65 L273.00,409.84 L274.00,408.02 L275.00,406.20 L276.00,404.38 L277.00,402.56 L278.00,400.73 L279.00,398.91 L280.00,397.09 L281.00,395.26 L282.00,393.44 L283.00,391.62 L284.00,389.80 L285.00,387.99 L286.00,386.17 L287.00,384.36 L288.00,382.56 L289.00,380.76 L290.00,378.96 L291.00,377.17 L292.00,375.38 L293.00,373.60 L294.00,371.82 L295.00,370.05 L296.00,368.29 L297.00,366.53 L298.00,364.79 L299.00,363.05 L300.00,361.31 L301.00,359.59 L302.00,357.87 L303.00,356.17 L304.00,354.47 L305.00,352.78 L306.00,351.10 L307.00,349.43 L308.00,347.77 L309.00,346.12 L310.00,344.48 L311.00,342.86 L312.00,341.24 L313.00,339.63 L314.00,338.04 L315.00,336.45 L316.00,334.88 L317.00,333.32 L318.00,331.77 L319.00,330.24 L320.00,328.72 L321.00,327.21 L322.00,325.71 L323.00,324.23 L324.00,322.76 L325.00,321.31 L326.00,319.87 L327.00,318.45 L328.00,317.04 L329.00,315.65 L330.00,314.27 L331.00,312.92 L332.00,311.58 L333.00,310.25 L334.00,308.95 L335.00,307.66 L336.00,306.40 L337.00,305.15 L338.00,303.93 L339.00,302.73 L340.00,301.55 L341.00,300.39 L342.00,299.25 L343.00,298.14 L344.00,297.05 L345.00,295.98 L346.00,294.94 L347.00,293.92 L348.00,292.93 L349.00,291.96 L350.00,291.02 L351.00,290.11 L352.00,289.22 L353.00,288.36 L354.00,287.53 L355.00,286.72 L356.00,285.94 L357.00,285.19 L358.00,284.47 L359.00,283.78 L360.00,283.11 L361.00,282.48 L362.00,281.87 L363.00,281.29 L364.00,280.74 L365.00,280.21 L366.00,279.72 L367.00,279.25 L368.00,278.81 L369.00,278.40 L370.00,278.02 L371.00,277.67 L372.00,277.35 L373.00,277.05 L374.00,276.78 L375.00,276.54 L376.00,276.32 L377.00,276.14 L378.00,275.97 L379.00,275.84 L380.00,275.73 L381.00,275.65 L382.00,275.59 L383.00,275.55 L384.00,275.54 L385.00,275.55 L386.00,275.59 L387.00,275.65 L388.00,275.73 L389.00,275.84 L390.00,275.97 L391.00,276.14 L392.00,276.32 L393.00,276.54 L394.00,276.78 L395.00,277.05 L396.00,277.35 L397.00,277.67 L398.00,278.02 L399.00,278.40 L400.00,278.81 L401.00,279.25 L402.00,279.72 L403.00,280.21 L404.00,280.74 L405.00,281.29 L406.00,281.87 L407.00,282.48 L408.00,283.11 L409.00,283.78 L410.00,284.47 L411.00,285.19 L412.00,285.94 L413.00,286.72 L414.00,287.53 L415.00,288.36 L416.00,289.22 L417.00,290.11 L418.00,291.02 L419.00,291.96 L420.00,292.93 L421.00,293.92 L422.00,294.94 L423.00,295.98 L424.00,297.05 L425.00,298.14 L426.00,299.25 L427.00,300.39 L428.00,301.55 L429.00,302.73 L430.00,303.93 L431.00,305.15 L432.00,306.40 L433.00,307.66 L434.00,308.95 L435.00,310.25 L436.00,311.58 L437.00,312.92 L438.00,314.27 L439.00,315.65 L440.00,317.04 L441.00,318.45 L442.00,319.87 L443.00,321.31 L444.00,322.76 L445.00,324.23 L446.00,325.71 L447.00,327.21 L448.00,328.72 L449.00,330.24 L450.00,331.77 L451.00,333.32 L452.00,334.88 L453.00,336.45 L454.00,338.04 L455.00,339.63 L456.00,341.24 L457.00,342.86 L458.00,344.48 L459.00,346.12 L460.00,347.77 L461.00,349.43 L462.00,351.10 L463.00,352.78 L464.00,354.47 L465.00,356.17 L466.00,357.87 L467.00,359.59 L468.00,361.31 L469.00,363.05 L470.00,364.79 L471.00,366.53 L472.00,368.29 L473.00,370.05 L474.00,371.82 L475.00,373.60 L476.00,375.38 L477.00,377.17 L478.00,378.96 L479.00,380.76 L480.00,382.56 L481.00,384.36 L482.00,386.17 L483.00,387.99 L484.00,389.80 L485.00,391.62 L486.00,393.44 L487.00,395.26 L488.00,397.09 L489.00,398.91 L490.00,400.73 L491.00,402.56 L492.00,404.38 L493.00,406.20 L494.00,408.02 L495.00,409.84 L496.00,411.65 L497.00,413.47 L498.00,415.28 L499.00,417.08 L500.00,418.88 L501.00,420.68 L502.00,422.47 L503.00,424.26 L504.00,426.04 L505.00,427.82 L506.00,429.59 L507.00,431.35 L508.00,433.11 L509.00,434.86 L510.00,436.60 L511.00,438.33 L512.00,440.06 L513.00,441.78 L514.00,443.48 L515.00,445.18 L516.00,446.87 L517.00,448.56 L518.00,450.23 L519.00,451.89 L520.00,453.54 L521.00,455.18 L522.00,456.81 L523.00,458.43 L524.00,460.04 L525.00,461.64 L526.00,463.23 L527.00,464.80 L528.00,466.37 L529.00,467.92 L530.00,469.46 L531.00,470.99 L532.00,472.51 L533.00,474.02 L534.00,475.51 L535.00,476.99 L536.00,478.47 L537.00,479.92 L538.00,481.37 L539.00,482.80 L540.00,484.23 L541.00,485.64 L542.00,487.03 L543.00,488.42 L544.00,489.79 L545.00,491.15 L546.00,492.50 L547.00,493.84 L548.00,495.16 L549.00,496.47 L550.00,497.77 L551.00,499.06 L552.00,500.33 L553.00,501.59 L554.00,502.84 L555.00,504.07 L556.00,505.29 L557.00,506.50 L558.00,507.70 L559.00,508.88 L560.00,510.05 L561.00,511.20 L562.00,512.34 L563.00,513.47 L564.00,514.58 L565.00,515.67 L566.00,516.75 L567.00,517.82 L568.00,518.87 L569.00,519.91 L570.00,520.93 L571.00,521.93 L572.00,522.92 L573.00,523.89 L574.00,524.85 L575.00,525.79 L576.00,526.71 L577.00,527.62 L578.00,528.50 L579.00,529.38 L580.00,530.23 L581.00,531.07 L582.00,531.89 L583.00,532.69 L584.00,533.48 L585.00,534.25 L586.00,535.00 L587.00,535.74 L588.00,536.45 L589.00,537.16 L590.00,537.84 L591.00,538.52 L592.00,539.17 L593.00,539.81 L594.00,540.44 L595.00,541.05 L596.00,541.64 L597.00,542.23 L598.00,542.80 L599.00,543.35 L600.00,543.90 L601.00,544.43 L602.00,544.95 L603.00,545.45 L604.00,545.95 L605.00,546.43 L606.00,546.91 L607.00,547.37 L608.00,547.83 L609.00,548.27 L610.00,548.71 L611.00,549.14 L612.00,549.55 L613.00,549.96 L614.00,550.37 L615.00,550.76 L616.00,551.15 L617.00,551.53 L618.00,551.90 L619.00,552.27 L620.00,552.62 L621.00,552.98 L622.00,553.32 L623.00,553.66 L624.00,553.99 L625.00,554.32 L626.00,554.64 L627.00,554.95 L628.00,555.26 L629.00,555.56 L630.00,555.86 L631.00,556.15 L632.00,556.43 L633.00,556.71 L634.00,556.99 L635.00,557.25 L636.00,557.52 L637.00,557.77 L638.00,558.02 L639.00,558.27 L640.00,558.51 L641.00,558.74 L642.00,558.97 L643.00,559.20 L644.00,559.42 L645.00,559.63 L646.00,559.84 L647.00,560.05 L648.00,560.25 L649.00,560.44 L650.00,560.63 L651.00,560.82 L652.00,561.00 L653.00,561.18 L654.00,561.35 L655.00,561.52 L656.00,561.68 L657.00,561.84 L658.00,561.99 L659.00,562.14 L660.00,562.29 L661.00,562.43 L662.00,562.57 L663.00,562.71 L664.00,562.84 L665.00,562.97 L666.00,563.09 L667.00,563.21 L668.00,563.33 L669.00,563.45 L670.00,563.56 L671.00,563.67 L672.00,563.77 L673.00,563.87 L674.00,563.97 L675.00,564.07 L676.00,564.16 L677.00,564.25 L678.00,564.34 L679.00,564.43 L680.00,564.51 L681.00,564.59 L682.00,564.67 L683.00,564.74 L684.00,564.82 L685.00,564.89 L686.00,564.96 L687.00,565.03 L688.00,565.09 L689.00,565.15 L690.00,565.21 L691.00,565.27 L692.00,565.33 L693.00,565.39 L694.00,565.44 L695.00,565.49 L696.00,565.54 L697.00,565.59 L698.00,565.64 L699.00,565.69 L700.00,565.73 L701.00,565.77 L702.00,565.81 L703.00,565.85 L704.00,565.89 L705.00,565.93 L706.00,565.97 L707.00,566.00 L708.00,566.04 L709.00,566.07 L710.00,566.10 L711.00,566.13 L712.00,566.16 L713.00,566.19 L714.00,566.22 L715.00,566.24 L716.00,566.27 L717.00,566.29 L718.00,566.32 L719.00,566.34 L720.00,566.36 L721.00,566.39 L722.00,566.41 L723.00,566.43 L724.00,566.45 L725.00,566.46 L726.00,566.48 L727.00,566.50 L728.00,566.52 L729.00,566.53 L730.00,566.55 L731.00,566.56 L732.00,566.58 L733.00,566.59 L734.00,566.61 L735.00,566.62 L736.00,566.63 L737.00,566.64 L738.00,566.65 L739.00,566.67 L740.00,566.68 L741.00,566.69 L742.00,566.70 L743.00,566.71 L744.00,566.71 L745.00,566.72 L746.00,566.73 L747.00,566.74 L748.00,566.75 L749.00,566.76 L750.00,566.76 L751.00,566.77 L752.00,566.78 L753.00,566.78 L754.00,566.79 L755.00,566.80" fill="none" stroke="#de4f1e" stroke-width="9.2" stroke-linejoin="round"/>
<line x1="57.1" y1="104.00" x2="711.6" y2="104.00" stroke="#747474" stroke-width="1.9"/><path d="M66.66,100.90 L56.96,104.00 L66.66,107.10" fill="none" stroke="#747474" stroke-width="1.9" stroke-linecap="round" stroke-linejoin="round"/><path d="M702.00,100.90 L711.70,104.00 L702.00,107.10" fill="none" stroke="#747474" stroke-width="1.9" stroke-linecap="round" stroke-linejoin="round"/>
<line x1="168.3" y1="166.20" x2="600.2" y2="166.20" stroke="#747474" stroke-width="1.9"/><path d="M177.90,163.10 L168.20,166.20 L177.90,169.30" fill="none" stroke="#747474" stroke-width="1.9" stroke-linecap="round" stroke-linejoin="round"/><path d="M590.60,163.10 L600.30,166.20 L590.60,169.30" fill="none" stroke="#747474" stroke-width="1.9" stroke-linecap="round" stroke-linejoin="round"/>
<line x1="280.1" y1="228.20" x2="488.6" y2="228.20" stroke="#747474" stroke-width="1.9"/><path d="M289.70,225.10 L280.00,228.20 L289.70,231.30" fill="none" stroke="#747474" stroke-width="1.9" stroke-linecap="round" stroke-linejoin="round"/><path d="M479.00,225.10 L488.70,228.20 L479.00,231.30" fill="none" stroke="#747474" stroke-width="1.9" stroke-linecap="round" stroke-linejoin="round"/>
<text x="384.8" y="95.5" font-size="25" text-anchor="middle" fill="#3a3a3a">99.72%</text>
<text x="384.8" y="157.7" font-size="25" text-anchor="middle" fill="#3a3a3a">95.44%</text>
<text x="384.8" y="219.7" font-size="25" text-anchor="middle" fill="#3a3a3a">68.26%</text>
<text x="107.9" y="606.8" font-size="21" text-anchor="middle" fill="#3a3a3a">2.14%</text>
<text x="220.5" y="606.8" font-size="21" text-anchor="middle" fill="#3a3a3a">13.59%</text>
<text x="330.3" y="606.8" font-size="21" text-anchor="middle" fill="#3a3a3a">34.13%</text>
<text x="440.0" y="606.8" font-size="21" text-anchor="middle" fill="#3a3a3a">34.13%</text>
<text x="554.3" y="606.8" font-size="21" text-anchor="middle" fill="#3a3a3a">13.59%</text>
<text x="664.7" y="606.8" font-size="21" text-anchor="middle" fill="#3a3a3a">2.14%</text>
<g fill="#cd552d" stroke="#cd552d" stroke-width="0.45" font-size="24" text-anchor="middle">
<text transform="translate(29.95,638.00) scale(1.13,1)">μ</text>
<text transform="translate(42.45,637.40) scale(1.05,1)">-</text>
<text transform="translate(54.75,638.00) scale(0.92,1)">3</text>
<text transform="translate(70.20,638.00) scale(0.88,1)">σ</text>
<text transform="translate(140.50,638.00) scale(1.13,1)">μ</text>
<text transform="translate(153.35,637.40) scale(1.05,1)">-</text>
<text transform="translate(165.50,638.00) scale(0.97,1)">2</text>
<text transform="translate(180.65,638.00) scale(0.88,1)">σ</text>
<text transform="translate(259.50,638.00) scale(1.13,1)">μ</text>
<text transform="translate(272.05,637.40) scale(1.05,1)">-</text>
<text transform="translate(285.15,638.00) scale(0.88,1)">σ</text>
<text transform="translate(388.05,638.00) scale(1.13,1)">μ</text>
<text transform="translate(478.75,638.00) scale(1.13,1)">μ</text>
<text transform="translate(495.20,638.60) scale(1.00,1)" font-size="23">+</text>
<text transform="translate(512.15,638.00) scale(0.88,1)">σ</text>
<text transform="translate(583.50,638.00) scale(1.13,1)">μ</text>
<text transform="translate(599.60,638.60) scale(1.00,1)" font-size="23">+</text>
<text transform="translate(616.00,638.00) scale(0.97,1)">2</text>
<text transform="translate(630.70,638.00) scale(0.88,1)">σ</text>
<text transform="translate(695.50,638.00) scale(1.13,1)">μ</text>
<text transform="translate(711.70,638.60) scale(1.00,1)" font-size="23">+</text>
<text transform="translate(728.45,638.00) scale(0.92,1)">3</text>
<text transform="translate(743.30,638.00) scale(0.88,1)">σ</text>
</g>
</svg></body></html>
